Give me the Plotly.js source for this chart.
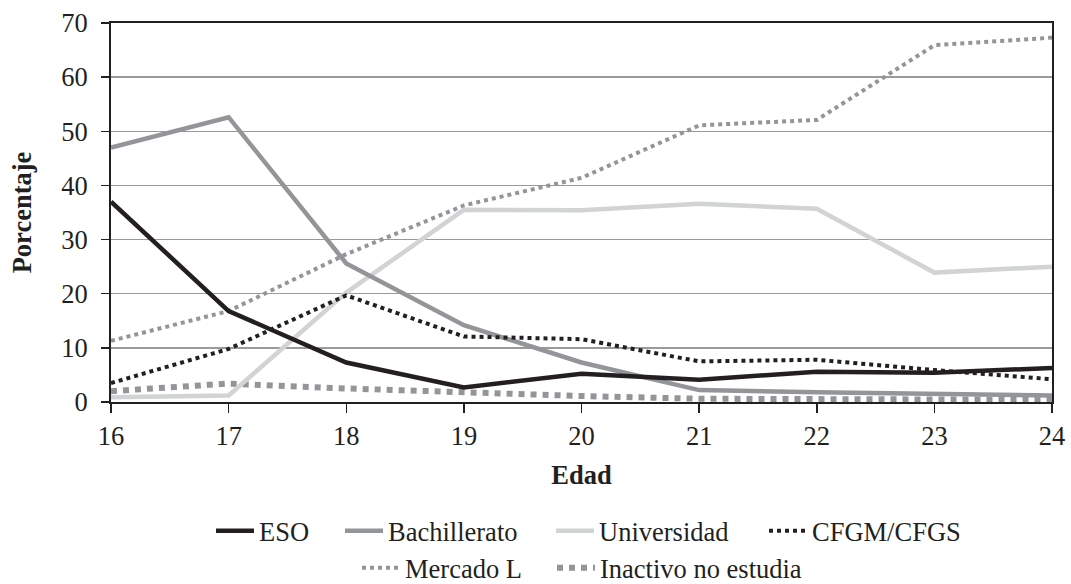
<!DOCTYPE html>
<html>
<head>
<meta charset="utf-8">
<script src="https://cdn.plot.ly/plotly-3.0.1.min.js"></script>
<style>html,body{margin:0;padding:0;background:#fff;}#chart{width:1071px;height:584px;}</style>
</head>
<body>
<div id="chart"></div>
<script>
const edades = [16, 17, 18, 19, 20, 21, 22, 23, 24];
const eso = [37.0, 16.8, 7.3, 2.7, 5.2, 4.1, 5.6, 5.4, 6.3];
const bachillerato = [47.0, 52.6, 25.6, 14.2, 7.3, 2.2, 1.8, 1.5, 1.2];
const universidad = [0.9, 1.2, 20.2, 35.5, 35.4, 36.6, 35.7, 23.9, 25.0];
const cfgm = [3.5, 9.8, 19.7, 12.1, 11.6, 7.5, 7.8, 5.9, 4.2];
const mercado = [11.3, 16.8, 27.3, 36.3, 41.4, 51.1, 52.1, 65.9, 67.3];
const inactivo = [2.0, 3.4, 2.5, 1.7, 1.1, 0.6, 0.6, 0.5, 0.4];
const nombres = ["ESO", "Bachillerato", "Universidad", "CFGM/CFGS", "Mercado L", "Inactivo no estudia"];
const yTicks = [0, 10, 20, 30, 40, 50, 60, 70];

const serie = (y, name, color, width, dash, legend) => ({
  x: edades, y: y, name: name, type: 'scatter', mode: 'lines',
  line: {color: color, width: width, dash: dash},
  legend: legend
});

const data = [
  serie(inactivo, nombres[5], '#939598', 6, 'dot', 'legend6'),
  serie(mercado, nombres[4], '#939598', 4, 'dot', 'legend5'),
  serie(universidad, nombres[2], '#d1d3d4', 4.5, 'solid', 'legend3'),
  serie(bachillerato, nombres[1], '#939598', 4.5, 'solid', 'legend2'),
  serie(cfgm, nombres[3], '#231f20', 4, 'dot', 'legend4'),
  serie(eso, nombres[0], '#231f20', 4.5, 'solid', 'legend')
];

const font = {family: "'Liberation Serif', 'Times New Roman', serif", size: 26.5, color: '#231f20'};

// legend text start positions (px) and row centres (px from top)
const legendPos = [[259, 531], [388, 531], [599, 531], [812, 531], [405, 568], [600, 568]];
const mkLegend = (p) => ({
  orientation: 'h', x: (p[0] - 48) / 1071, xref: 'container', xanchor: 'left',
  y: 1 - p[1] / 584, yref: 'container', yanchor: 'middle',
  font: font, bgcolor: 'rgba(0,0,0,0)', borderwidth: 0, itemwidth: 38
});

const layout = {
  width: 1071, height: 584,
  margin: {l: 111, r: 19, t: 23, b: 182, autoexpand: false},
  paper_bgcolor: '#fff', plot_bgcolor: '#fff',
  font: font,
  showlegend: true,
  xaxis: {
    range: [16, 24], tickvals: edades, ticktext: edades.map(String),
    ticks: 'outside', ticklen: 9, tickwidth: 1.5, tickcolor: '#231f20',
    showline: true, linecolor: '#231f20', linewidth: 2, mirror: true,
    showgrid: false, zeroline: false, automargin: false,
    ticklabeloverflow: 'allow',
    tickfont: font,
    title: {text: '<b>Edad</b>', font: font, standoff: 16}
  },
  yaxis: {
    range: [0, 70], tickvals: yTicks,
    ticks: 'outside', ticklen: 8, tickwidth: 1.5, tickcolor: '#231f20',
    showline: true, linecolor: '#231f20', linewidth: 2, mirror: true,
    showgrid: true, gridcolor: '#9a9a9a', gridwidth: 1.3, zeroline: false, automargin: false,
    ticklabelstandoff: 8, ticklabeloverflow: 'allow',
    tickfont: font,
    title: {text: '<b>Porcentaje</b>', font: font, standoff: 22}
  },
  legend: mkLegend(legendPos[0]),
  legend2: mkLegend(legendPos[1]),
  legend3: mkLegend(legendPos[2]),
  legend4: mkLegend(legendPos[3]),
  legend5: mkLegend(legendPos[4]),
  legend6: mkLegend(legendPos[5])
};

Plotly.newPlot('chart', data, layout, {displayModeBar: false, staticPlot: true});
</script>
</body>
</html>
